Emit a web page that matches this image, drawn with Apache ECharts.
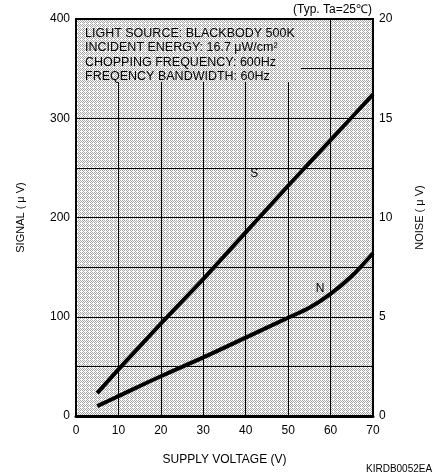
<!DOCTYPE html>
<html><head><meta charset="utf-8">
<script src="https://cdn.jsdelivr.net/npm/echarts@6/dist/echarts.min.js"></script>
<style>html,body{margin:0;padding:0;background:#fff}#c{width:433px;height:476px}</style>
</head><body><div id="c"></div>
<script>
// Data
const voltage = [5, 10, 20, 30, 40, 50, 55, 60, 65, 70];
const signal = [23, 47, 93, 138, 185, 232, 255, 278, 301, 324];
const noise = [0.5, 1.0, 2.0, 2.95, 3.95, 4.95, 5.45, 6.15, 7.05, 8.2];
const xTicks = [0, 10, 20, 30, 40, 50, 60, 70];
const leftTicks = [0, 100, 200, 300, 400];
const rightTicks = [0, 5, 10, 15, 20];
const notes = ['LIGHT SOURCE: BLACKBODY 500K', 'INCIDENT ENERGY: 16.7 \u03bcW/cm\u00b2', 'CHOPPING FREQUENCY: 600Hz', 'FREQENCY BANDWIDTH: 60Hz'];

function hatch() {
  const c = document.createElement('canvas');
  c.width = 4; c.height = 4;
  const g = c.getContext('2d');
  g.fillStyle = '#ffffff'; g.fillRect(0, 0, 4, 4);
  g.fillStyle = '#a6a6a6';
  [[0,0],[2,0],[1,1],[3,1],[0,2],[2,2],[3,3]].forEach(p => g.fillRect(p[0], p[1], 1, 1));
  return {image: c, repeat: 'repeat'};
}
const pat = hatch();
const F = 'Liberation Sans, Arial, sans-serif';
const chart = echarts.init(document.getElementById('c'), null, {renderer: 'canvas'});
chart.setOption({
  animation: false,
  backgroundColor: '#fff',
  textStyle: {fontFamily: F, color: '#000'},
  grid: {left: 76, right: 55, top: 19, bottom: 60, show: true, backgroundColor: pat, borderColor: '#000', borderWidth: 2},
  xAxis: {
    type: 'value', min: 0, max: 70, interval: 10,
    name: 'SUPPLY VOLTAGE (V)', nameLocation: 'middle', nameGap: 38,
    nameTextStyle: {fontSize: 12, color: '#000', fontFamily: F},
    axisLine: {show: true, onZero: false, lineStyle: {color: '#000', width: 3}},
    axisTick: {show: false},
    axisLabel: {fontSize: 12, color: '#000', margin: 9, fontFamily: F,
      formatter: v => xTicks.includes(v) ? String(v) : ''},
    splitLine: {show: true, lineStyle: {color: '#000', width: 1}}
  },
  yAxis: [{
    type: 'value', min: 0, max: 400, interval: 50,
    name: 'SIGNAL ( \u03bc V)', nameLocation: 'middle', nameGap: 50, nameRotate: 90,
    nameTextStyle: {fontSize: 11, color: '#000', fontFamily: F},
    axisLine: {show: true, lineStyle: {color: '#000', width: 2}},
    axisTick: {show: false},
    axisLabel: {fontSize: 12, color: '#000', margin: 6, fontFamily: F,
      formatter: v => leftTicks.includes(v) ? String(v) : ''},
    splitLine: {show: true, lineStyle: {color: '#000', width: 1}}
  }, {
    type: 'value', min: 0, max: 20, interval: 2.5, position: 'right',
    name: 'NOISE ( \u03bc V)', nameLocation: 'middle', nameGap: 41, nameRotate: 90,
    nameTextStyle: {fontSize: 11, color: '#000', fontFamily: F},
    axisLine: {show: true, lineStyle: {color: '#000', width: 2}},
    axisTick: {show: false},
    axisLabel: {fontSize: 12, color: '#000', margin: 6, fontFamily: F,
      formatter: v => rightTicks.includes(v) ? String(v) : ''},
    splitLine: {show: false}
  }],
  graphic: [
    {type: 'rect', z: 5, shape: {x: 77, y: 20, width: 224, height: 62}, style: {fill: pat}},
    {type: 'text', z: 6, left: 85, top: 26, style: {text: notes.join('\n'), font: '12.5px ' + F, fill: '#000', lineHeight: 14.5}},
    {type: 'text', z: 6, left: 293, top: 4, style: {text: '(Typ. Ta=25\u2103)', font: '12px ' + F, fill: '#000'}},
    {type: 'text', z: 6, left: 366, top: 464, style: {text: 'KIRDB0052EA', font: '10px ' + F, fill: '#000'}}
  ],
  series: [{
    type: 'line', yAxisIndex: 0, showSymbol: false, z: 8,
    data: voltage.map((v, i) => [v, signal[i]]),
    lineStyle: {color: '#000', width: 4},
    markPoint: {symbolSize: 0, label: {show: true, formatter: 'S', fontSize: 12, color: '#000', fontFamily: F}, data: [{coord: [42, 244]}]}
  }, {
    type: 'line', yAxisIndex: 1, smooth: 0.3, showSymbol: false, z: 8,
    data: voltage.map((v, i) => [v, noise[i]]),
    lineStyle: {color: '#000', width: 4},
    markPoint: {symbolSize: 0, label: {show: true, formatter: 'N', fontSize: 12, color: '#000', fontFamily: F}, data: [{coord: [57.5, 6.4]}]}
  }]
});
</script></body></html>
